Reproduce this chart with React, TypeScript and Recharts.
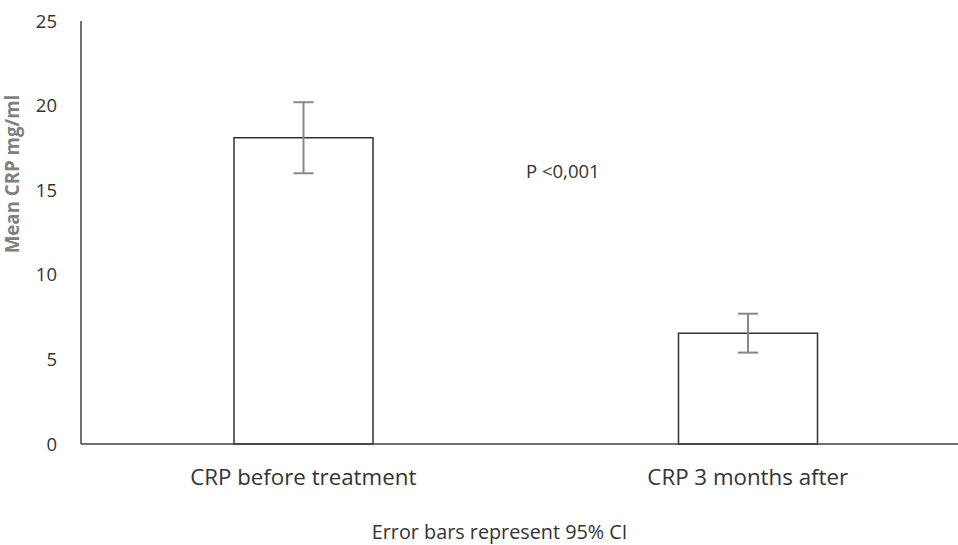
import React from 'react';
import { BarChart, Bar, XAxis, YAxis, ErrorBar } from 'recharts';

const categories = ['CRP before treatment', 'CRP 3 months after'];
const means = [18.1, 6.55];
const ciLow = [16.0, 5.4];
const ciHigh = [20.2, 7.7];
const yTicks = [0, 5, 10, 15, 20, 25];

const data = categories.map((name, i) => ({
  name,
  mean: means[i],
  err: [means[i] - ciLow[i], ciHigh[i] - means[i]],
}));

const FONT = '"Open Sans", sans-serif';

export default function App() {
  return (
    <div
      style={{
        position: 'relative',
        width: 958,
        height: 545,
        overflow: 'hidden',
        background: '#fff',
        fontFamily: FONT,
      }}
    >
      <style>{'html,body{margin:0;padding:0;overflow:hidden;}'}</style>
      <BarChart
        width={978}
        height={545}
        data={data}
        margin={{ top: 21, right: 8, bottom: 41, left: 0 }}
      >
        <XAxis
          dataKey="name"
          height={60}
          axisLine={{ stroke: '#404040', strokeWidth: 1.5 }}
          tickLine={false}
          tickSize={0}
          tickMargin={25}
          tick={{ fill: '#333', fontSize: 22.3, fontFamily: FONT }}
        />
        <YAxis
          width={81}
          domain={[0, 25]}
          ticks={yTicks}
          interval={0}
          axisLine={{ stroke: '#404040', strokeWidth: 1.5 }}
          tickLine={false}
          tickSize={0}
          tickMargin={24}
          tick={{ fill: '#333', fontSize: 18.5, fontFamily: FONT }}
        />
        <Bar
          dataKey="mean"
          fill="#fff"
          stroke="#333"
          strokeWidth={1.5}
          barSize={139}
          isAnimationActive={false}
        >
          <ErrorBar dataKey="err" width={10} stroke="#888" strokeWidth={2} />
        </Bar>
      </BarChart>
      <svg
        width={958}
        height={545}
        style={{ position: 'absolute', left: 0, top: 0, pointerEvents: 'none' }}
      >
        <text
          x={19}
          y={174}
          transform="rotate(-90 19 174)"
          textAnchor="middle"
          fill="#808080"
          fontWeight="bold"
          fontSize={18.7}
          fontFamily={FONT}
        >
          Mean CRP mg/ml
        </text>
        <text x={526} y={178} fill="#333" fontSize={18.5} fontFamily={FONT}>
          P &lt;0,001
        </text>
        <text x={499.5} y={539} textAnchor="middle" fill="#333" fontSize={19.8} fontFamily={FONT}>
          Error bars represent 95% CI
        </text>
      </svg>
    </div>
  );
}
